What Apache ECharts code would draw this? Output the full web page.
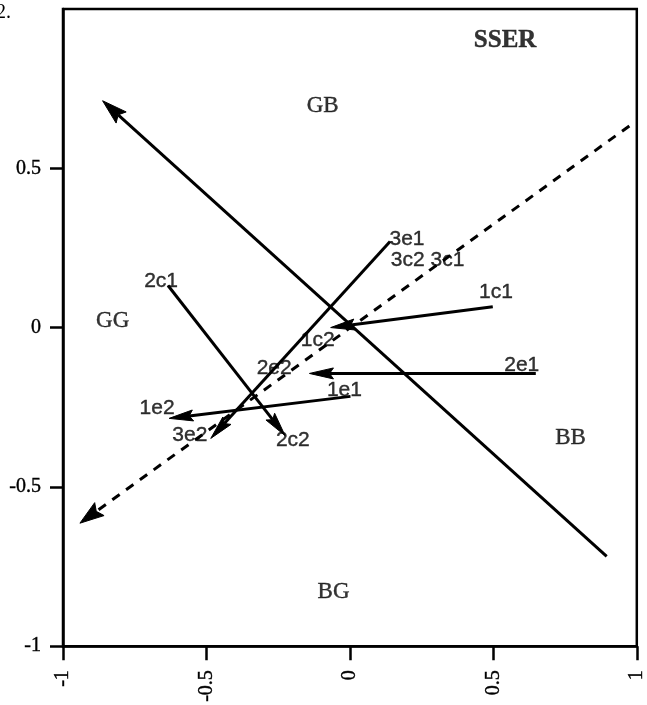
<!DOCTYPE html>
<html>
<head>
<meta charset="utf-8">
<script src="https://cdn.jsdelivr.net/npm/echarts@6/dist/echarts.min.js"></script>
<style>
  html, body { margin: 0; padding: 0; background: #fff; }
  #chart { width: 647px; height: 705px; }
</style>
</head>
<body>
<div id="chart"></div>
<script>
// Axis ticks
const xTicks = [-1, -0.5, 0, 0.5, 1];
const yTicks = [-1, -0.5, 0, 0.5];

// Principal directions: solid (arrow at upper left) and dashed (arrow at lower left)
const solidAxisFrom = [0.895, -0.718];
const solidAxisTo = [-0.862, 0.712];
const dashedAxisFrom = [0.974, 0.633];
const dashedAxisTo = [-0.941, -0.614];

// Shift vectors: start point -> arrow tip
const vectorFrom = [[0.498, 0.065], [0.648, -0.144], [0.002, -0.216], [-0.634, 0.132], [0.140, 0.270]];
const vectorTo   = [[-0.067, 0.000], [-0.141, -0.144], [-0.630, -0.285], [-0.226, -0.339], [-0.485, -0.348]];

// Point labels
const pointNames = ['3e1', '3c2 3c1', '1c1', '1c2', '2e2', '2e1', '1e1', '1e2', '3e2', '2c1', '2c2'];
const pointX = [0.199, 0.271, 0.509, -0.112, -0.264, 0.599, -0.019, -0.672, -0.558, -0.658, -0.199];
const pointY = [0.276, 0.210, 0.110, -0.041, -0.129, -0.119, -0.197, -0.254, -0.339, 0.147, -0.354];

// Quadrant labels
const regionNames = ['GB', 'GG', 'BB', 'BG'];
const regionX = [-0.095, -0.827, 0.769, -0.057];
const regionY = [0.696, 0.022, -0.348, -0.831];

const titleText = 'SSER';
const titlePos = [0.541, 0.900];

const serif = 'Liberation Serif, Times New Roman, serif';
const sans = 'Liberation Sans, Arial, Helvetica, sans-serif';

// Arrow rows: x1, y1, x2, y2, dashed flag, head length, head width
const arrowRows = [
  [solidAxisFrom[0], solidAxisFrom[1], solidAxisTo[0], solidAxisTo[1], 0, 25, 15],
  [dashedAxisFrom[0], dashedAxisFrom[1], dashedAxisTo[0], dashedAxisTo[1], 1, 24, 16]
].concat(vectorFrom.map((p, i) => [p[0], p[1], vectorTo[i][0], vectorTo[i][1], 0, 24, 11]));

function renderArrow(params, api) {
  const a = api.coord([api.value(0), api.value(1)]);
  const b = api.coord([api.value(2), api.value(3)]);
  const dashed = api.value(4) === 1;
  const len = api.value(5);
  const wid = api.value(6);
  const dx = b[0] - a[0], dy = b[1] - a[1];
  const d = Math.sqrt(dx * dx + dy * dy);
  const ux = dx / d, uy = dy / d;
  const px = -uy, py = ux;
  const baseX = b[0] - ux * len, baseY = b[1] - uy * len;
  const notchX = b[0] - ux * len * 0.84, notchY = b[1] - uy * len * 0.84;
  return {
    type: 'group',
    children: [
      {
        type: 'line',
        shape: { x1: a[0], y1: a[1], x2: notchX, y2: notchY },
        style: { stroke: '#000', lineWidth: 3, lineDash: dashed ? [9, 8] : null, fill: null }
      },
      {
        type: 'polygon',
        shape: {
          points: [
            [b[0], b[1]],
            [baseX + px * wid / 2, baseY + py * wid / 2],
            [notchX, notchY],
            [baseX - px * wid / 2, baseY - py * wid / 2]
          ]
        },
        style: { fill: '#000', stroke: '#000', lineWidth: 1 }
      }
    ]
  };
}

const inkText = { color: '#000', textBorderColor: '#000', textBorderWidth: 0.4 };

const chart = echarts.init(document.getElementById('chart'));

const option = {
  animation: false,
  backgroundColor: '#fff',
  grid: {
    left: 63, top: 9, width: 579, height: 638,
    show: true, borderColor: '#000', borderWidth: 2.5, backgroundColor: 'transparent'
  },
  xAxis: {
    type: 'value', min: -1, max: 1, interval: 0.5,
    splitLine: { show: false },
    axisLine: { show: true, onZero: false, lineStyle: { color: '#000', width: 2.5 } },
    axisTick: { show: true, inside: false, length: 14, lineStyle: { color: '#000', width: 2.5 }, customValues: xTicks },
    axisLabel: Object.assign({
      rotate: 90, margin: 24, fontFamily: serif, fontSize: 20,
      customValues: xTicks,
      formatter: v => String(v)
    }, inkText)
  },
  yAxis: {
    type: 'value', min: -1, max: 1, interval: 0.5,
    splitLine: { show: false },
    axisLine: { show: true, onZero: false, lineStyle: { color: '#000', width: 2.5 } },
    axisTick: { show: true, inside: false, length: 13, lineStyle: { color: '#000', width: 2.5 }, customValues: yTicks },
    axisLabel: Object.assign({
      margin: 22, fontFamily: serif, fontSize: 20,
      customValues: yTicks,
      formatter: v => String(v)
    }, inkText)
  },
  series: [
    {
      type: 'custom', silent: true,
      renderItem: renderArrow,
      encode: { x: [0, 2], y: [1, 3] },
      data: arrowRows
    },
    {
      type: 'scatter', silent: true, symbolSize: 0,
      label: Object.assign({
        show: true, position: 'inside',
        fontFamily: sans, fontSize: 21,
        formatter: p => p.name
      }, inkText),
      data: pointNames.map((n, i) => ({ name: n, value: [pointX[i], pointY[i]] }))
    },
    {
      type: 'scatter', silent: true, symbolSize: 0,
      label: Object.assign({
        show: true, position: 'inside',
        fontFamily: serif, fontSize: 23,
        formatter: p => p.name
      }, inkText),
      data: regionNames.map((n, i) => ({ name: n, value: [regionX[i], regionY[i]] }))
    },
    {
      type: 'scatter', silent: true, symbolSize: 0,
      label: Object.assign({
        show: true, position: 'inside',
        fontFamily: serif, fontSize: 25, fontWeight: 'bold',
        formatter: p => p.name
      }, inkText),
      data: [{ name: titleText, value: titlePos }]
    }
  ],
  graphic: [
    { type: 'text', left: -4, top: 3, style: { text: '2.', fontFamily: serif, fontSize: 20, fill: '#000' } }
  ]
};

chart.setOption(option);
</script>
</body>
</html>
